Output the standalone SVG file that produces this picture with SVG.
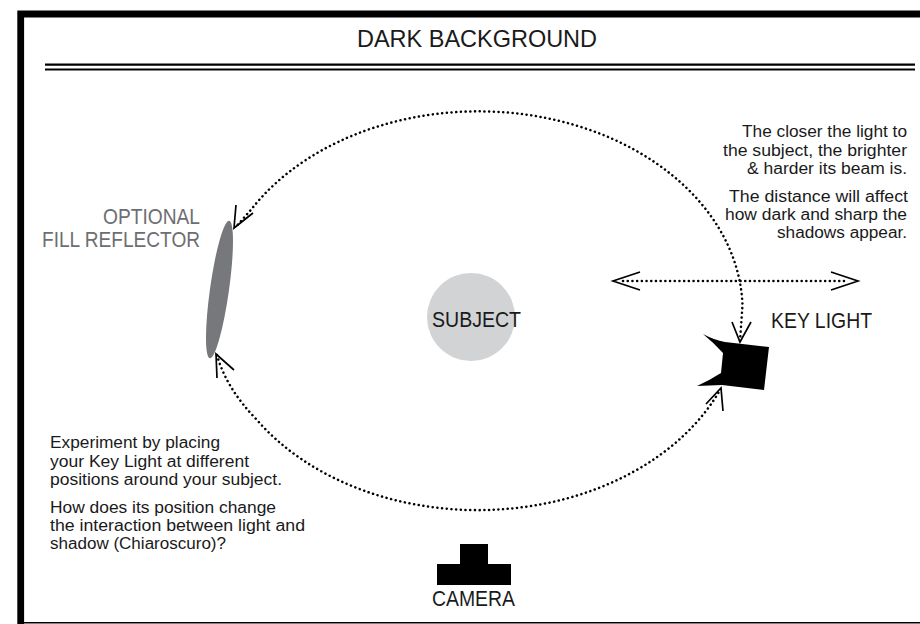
<svg xmlns="http://www.w3.org/2000/svg" width="920" height="624" viewBox="0 0 920 624">
<style>
text{font-family:"Liberation Sans",Arial,sans-serif;fill:#1a1a1a}
.l{font-size:22px}
.s{font-size:16px}
.g{fill:#6d6e71}
.d{fill:none;stroke:#000;stroke-width:2.500;stroke-dasharray:.1 4.600;stroke-linecap:round}
.a{fill:none;stroke:#000;stroke-width:1.700}
</style>
<rect width="920" height="624" fill="#fff"/>
<path d="M20.700 624V14H920" fill="none" stroke="#000" stroke-width="6.800"/>
<path d="M20 622.700H920" stroke="#000" stroke-width="1.500"/>
<g id="title">
<text x="357" y="47" font-size="24" textLength="240" lengthAdjust="spacingAndGlyphs">DARK BACKGROUND</text>
<path d="M45 64.700H915M45 69.500H915" stroke="#000" stroke-width="2.200"/>
</g>
<g id="connectors">
<path class="d" d="M740 341L742.500 305A264 199.500 0 0 0 252 208.500L235 228"/>
<path class="d" d="M217 355Q226 388 257 420A264 199.500 0 0 0 720 390"/>
<path class="d" d="M623 281H846"/>
<path class="a" d="M640 272L613 281L640 290M831 272L858 281L831 290"/>
<path class="a" d="M732 322L740 342L751 322M236 205L234 228L253 213M217 378L216 354L234 370M706 404L721 388L723 411"/>
</g>
<g id="reflector"><ellipse cx="219.500" cy="289.500" rx="9.500" ry="69.500" transform="rotate(8 219.500 289.500)" fill="#77787b"/>
<text class="l g" x="103" y="224" textLength="97" lengthAdjust="spacingAndGlyphs">OPTIONAL</text>
<text class="l g" x="42" y="247" textLength="158" lengthAdjust="spacingAndGlyphs">FILL REFLECTOR</text></g>
<g id="subject"><circle cx="471" cy="317" r="44" fill="#d1d3d4"/>
<text class="l" x="432" y="327" textLength="89" lengthAdjust="spacingAndGlyphs">SUBJECT</text></g>
<g id="keylight"><path d="M703 334Q714 340 725 342L769 347L764 390L722 385L697 386Q710 380 721 373L723 353Q714 343 703 334Z" fill="#000"/>
<text class="l" x="771" y="328" textLength="101" lengthAdjust="spacingAndGlyphs">KEY LIGHT</text></g>
<g id="camera"><path d="M460 544H488V564H511V585H437V564H460Z" fill="#000"/>
<text class="l" x="432" y="606" textLength="83" lengthAdjust="spacingAndGlyphs">CAMERA</text></g>
<g id="note-right">
<text class="s" x="742" y="137" textLength="165" lengthAdjust="spacingAndGlyphs">The closer the light to</text>
<text class="s" x="723" y="156" textLength="184" lengthAdjust="spacingAndGlyphs">the subject, the brighter</text>
<text class="s" x="747" y="174" textLength="160" lengthAdjust="spacingAndGlyphs">&amp; harder its beam is.</text>
<text class="s" x="729" y="202" textLength="179" lengthAdjust="spacingAndGlyphs">The distance will affect</text>
<text class="s" x="725" y="220" textLength="182" lengthAdjust="spacingAndGlyphs">how dark and sharp the</text>
<text class="s" x="777" y="238" textLength="130" lengthAdjust="spacingAndGlyphs">shadows appear.</text>
</g>
<g id="note-left">
<text class="s" x="50" y="448" textLength="170" lengthAdjust="spacingAndGlyphs">Experiment by placing</text>
<text class="s" x="50" y="466.500" textLength="199" lengthAdjust="spacingAndGlyphs">your Key Light at different</text>
<text class="s" x="50" y="485" textLength="232" lengthAdjust="spacingAndGlyphs">positions around your subject.</text>
<text class="s" x="50" y="513" textLength="226" lengthAdjust="spacingAndGlyphs">How does its position change</text>
<text class="s" x="50" y="531" textLength="255" lengthAdjust="spacingAndGlyphs">the interaction between light and</text>
<text class="s" x="50" y="549" textLength="176" lengthAdjust="spacingAndGlyphs">shadow (Chiaroscuro)?</text>
</g>
</svg>
